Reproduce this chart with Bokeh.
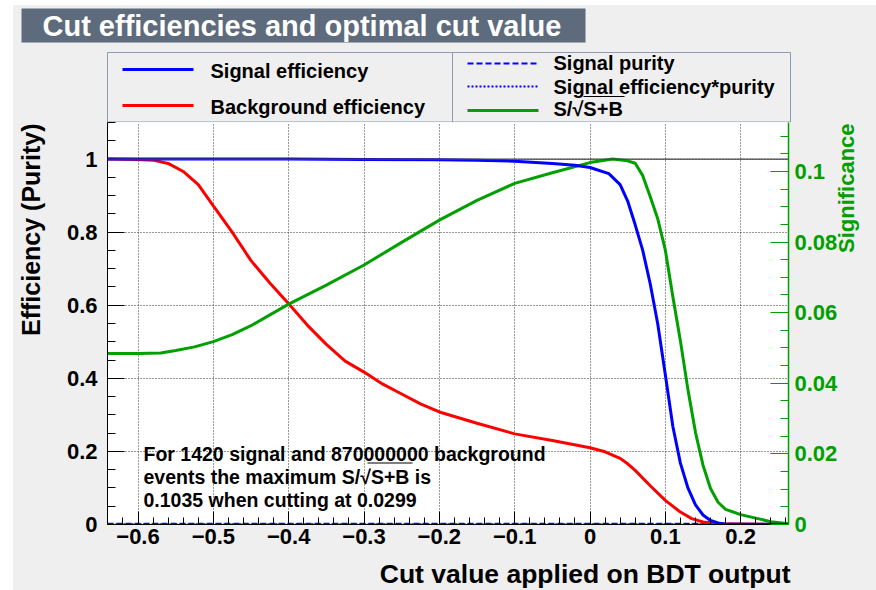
import numpy as np
from bokeh.plotting import figure
from bokeh.layouts import column, row
from bokeh.models import (Range1d, LinearAxis, FixedTicker, Label, BoxAnnotation, Span)
from bokeh.core.properties import value
from bokeh.embed import file_html
from bokeh.resources import INLINE

FONT = "Liberation Sans"
GREEN = "#00a000"
CANVAS = "#efefef"

# ---- numbers quoted in the summary text ----
N_SIG = 1420
N_BKG = 870000000
SIG_MAX = 0.1035      # maximum S/sqrt(S+B)
CUT_OPT = 0.0299      # BDT cut at which the maximum occurs

# ---- axis ranges and ticks ----
X_MIN, X_MAX = -0.6405, 0.2635
X_TICKS = [-0.6, -0.5, -0.4, -0.3, -0.2, -0.1, 0, 0.1, 0.2]
X_TICK_LABELS = ["\u22120.6", "\u22120.5", "\u22120.4", "\u22120.3", "\u22120.2",
                 "\u22120.1", "0", "0.1", "0.2"]
Y_TICKS = [0, 0.2, 0.4, 0.6, 0.8, 1]
Y_TICK_LABELS = ["0", "0.2", "0.4", "0.6", "0.8", "1"]
SIG_TICKS = [0, 0.02, 0.04, 0.06, 0.08, 0.1]
SIG_TICK_LABELS = ["0", "0.02", "0.04", "0.06", "0.08", "0.1"]

# ---- titles and legend entries ----
TITLE = "Cut efficiencies and optimal cut value"
X_TITLE = "Cut value applied on BDT output"
Y_TITLE = "Efficiency (Purity)"
SIG_TITLE = "Significance"
LEGEND_LEFT = ["Signal efficiency", "Background efficiency"]
LEGEND_RIGHT = ["Signal purity", "Signal efficiency*purity", "S/\u221aS+B"]

# ---- signal efficiency vs cut ----
seff_x = [-0.6405, -0.5, -0.4, -0.3, -0.2, -0.15, -0.1, -0.05, -0.02, 0.0, 0.025,
          0.04, 0.05, 0.06, 0.07, 0.08, 0.09, 0.10, 0.11, 0.12, 0.13, 0.14, 0.15,
          0.16, 0.17, 0.18, 0.2635]
seff_y = [1.0, 1.0, 1.0, 0.999, 0.998, 0.997, 0.994, 0.988, 0.983, 0.977, 0.960,
          0.930, 0.885, 0.820, 0.750, 0.658, 0.548, 0.410, 0.268, 0.168, 0.100,
          0.054, 0.026, 0.011, 0.004, 0.001, 0.0]

# ---- background efficiency vs cut ----
beff_x = [-0.6405, -0.60, -0.58, -0.56, -0.54, -0.52, -0.50, -0.475, -0.45, -0.425,
          -0.40, -0.375, -0.35, -0.325, -0.30, -0.275, -0.25, -0.225, -0.20, -0.15,
          -0.10, -0.05, 0.0, 0.02, 0.04, 0.05, 0.06, 0.08, 0.10, 0.12, 0.135,
          0.15, 0.17, 0.2635]
beff_y = [1.0, 0.999, 0.997, 0.988, 0.966, 0.930, 0.872, 0.800, 0.722, 0.661,
          0.604, 0.545, 0.493, 0.447, 0.417, 0.384, 0.357, 0.330, 0.308, 0.277,
          0.248, 0.230, 0.210, 0.199, 0.181, 0.166, 0.148, 0.106, 0.066, 0.034,
          0.016, 0.007, 0.002, 0.0]

# ---- signal purity and efficiency*purity (tiny for this S/B ratio) ----
pur_x = [-0.6405, -0.3, 0.0, 0.1, 0.2]
pur_y = [0.002, 0.002, 0.002, 0.002, 0.002]
effpur_x = [-0.6405, -0.3, 0.0, 0.1, 0.15]
effpur_y = [0.001, 0.001, 0.001, 0.001, 0.001]

# ---- significance S/sqrt(S+B) vs cut ----
sig_x = [-0.6405, -0.60, -0.57, -0.55, -0.525, -0.50, -0.475, -0.45, -0.40, -0.35,
         -0.30, -0.25, -0.20, -0.15, -0.10, -0.05, 0.0, CUT_OPT, 0.05, 0.06, 0.07,
         0.08, 0.09, 0.10, 0.11, 0.12, 0.13, 0.14, 0.15, 0.16, 0.17, 0.18, 0.20,
         0.22, 0.24, 0.2635]
sig_y = [0.0484, 0.0484, 0.0486, 0.0493, 0.0503, 0.0518, 0.0538, 0.0563, 0.0624,
         0.0678, 0.0735, 0.0799, 0.0862, 0.0918, 0.0966, 0.0996, 0.1025, SIG_MAX,
         0.1030, 0.1023, 0.0988, 0.0928, 0.0865, 0.0777, 0.0645, 0.0520, 0.0382,
         0.0261, 0.0168, 0.0102, 0.0063, 0.0043, 0.0028, 0.0018, 0.0008, 0.0002]

# ---- page geometry (pixels) ----
W, H = 876, 590
OX, OY = 13, 5                  # white page margin left / top
FRAME_L, FRAME_R, FRAME_T, FRAME_B = 107, 790, 122, 524
LEFT_STRIP = 50                 # page x where the main plot starts
AX_L, AX_R, AX_B = 57, 50, 34   # axis borders of the main plot
MAIN_W = AX_L + (FRAME_R - FRAME_L) + AX_R
MAIN_H = (FRAME_B - FRAME_T) + AX_B
RIGHT_STRIP = W - LEFT_STRIP - MAIN_W
RIGHT_OVERLAP = 8               # the significance title reaches over the tick labels
BOTTOM_STRIP = H - FRAME_T - MAIN_H


def bare(width, height, x_range, y_range, transparent=False):
    f = figure(width=width, height=height, x_range=x_range, y_range=y_range,
               x_axis_type=None, y_axis_type=None, output_backend="svg",
               toolbar_location=None, min_border=0,
               background_fill_color=CANVAS, border_fill_color=CANVAS)
    f.outline_line_color = None
    if transparent:
        f.background_fill_alpha = 0
        f.border_fill_alpha = 0
    return f


def write(f, xs, ys, texts, size, color="black", align="left", angle=0.0):
    f.text(x=xs, y=ys, text=texts, text_font=value(FONT), text_font_style="bold",
           text_font_size=size, text_color=color, text_align=align,
           text_baseline="middle", angle=angle)


# ---------------- main plot ----------------
p = figure(width=MAIN_W, height=MAIN_H,
           x_range=Range1d(X_MIN, X_MAX), y_range=Range1d(0, 1.1),
           output_backend="svg", toolbar_location=None,
           min_border_left=AX_L, min_border_right=AX_R,
           min_border_top=0, min_border_bottom=AX_B,
           background_fill_color="white", border_fill_color=CANVAS)
p.outline_line_color = None
p.extra_y_ranges = {"sig": Range1d(0, 1.1 * SIG_MAX)}

tick_font = dict(major_label_text_font=FONT, major_label_text_font_style="bold",
                 major_label_text_font_size="22px")

xax = p.xaxis[0]
xax.ticker = FixedTicker(ticks=X_TICKS,
                         minor_ticks=[round(v, 2) for v in np.arange(-0.64, 0.27, 0.02)])
xax.major_label_overrides = dict(zip(X_TICKS, X_TICK_LABELS))
xax.update(major_tick_in=13, major_tick_out=0, minor_tick_in=7, minor_tick_out=0,
           major_label_standoff=4, axis_line_color="black",
           major_tick_line_color="black", minor_tick_line_color="black",
           major_label_text_color="black", **tick_font)

yax = p.yaxis[0]
yax.ticker = FixedTicker(ticks=Y_TICKS,
                         minor_ticks=[round(v, 2) for v in np.arange(0, 1.11, 0.05)])
yax.major_label_overrides = dict(zip(Y_TICKS, Y_TICK_LABELS))
yax.update(major_tick_in=17, major_tick_out=0, minor_tick_in=8, minor_tick_out=0,
           major_label_standoff=10, axis_line_color="black",
           major_tick_line_color="black", minor_tick_line_color="black",
           major_label_text_color="black", **tick_font)

rax = LinearAxis(y_range_name="sig",
                 ticker=FixedTicker(ticks=SIG_TICKS,
                                    minor_ticks=[round(v, 3) for v in np.arange(0, 0.114, 0.005)]))
rax.major_label_overrides = dict(zip(SIG_TICKS, SIG_TICK_LABELS))
rax.update(major_tick_in=18, major_tick_out=0, minor_tick_in=8, minor_tick_out=0,
           major_label_standoff=6, axis_line_color=GREEN, axis_line_width=1.5,
           major_tick_line_color=GREEN, minor_tick_line_color=GREEN,
           major_label_text_color=GREEN, **tick_font)
p.add_layout(rax, "right")

for g in (p.xgrid, p.ygrid):
    g.grid_line_color = "#333333"
    g.grid_line_dash = "1 2"
    g.grid_line_width = 1

p.add_layout(Span(location=1, dimension="width", line_color="#444444", line_width=1.2))

p.line(pur_x, pur_y, line_color="blue", line_width=2, line_dash="6 3")
p.line(effpur_x, effpur_y, line_color="blue", line_width=2, line_dash="2 2")
p.line(beff_x, beff_y, line_color="red", line_width=3)
p.line(sig_x, sig_y, line_color=GREEN, line_width=3, y_range_name="sig")
p.line(seff_x, seff_y, line_color="blue", line_width=3)


# summary text inside the frame (screen units from the frame's bottom-left)
def note(t, cx, cy):
    p.add_layout(Label(x=cx - FRAME_L, y=FRAME_B - cy, x_units="screen", y_units="screen",
                       text=t, text_font=FONT, text_font_style="bold",
                       text_font_size="19.5px", text_color="black",
                       text_align="left", text_baseline="middle"))


note(f"For {N_SIG} signal and {N_BKG} background", 143, 453)
note("events the maximum S/\u221aS+B is", 143, 476)
note(f"{SIG_MAX:.4f} when cutting at {CUT_OPT:.4f}", 143, 499)
p.add_layout(BoxAnnotation(left=367 - FRAME_L, right=412 - FRAME_L,
                           top=FRAME_B - 462, bottom=FRAME_B - 463,
                           left_units="screen", right_units="screen",
                           top_units="screen", bottom_units="screen",
                           fill_color="black", fill_alpha=1, line_alpha=0))

# ---------------- header: title box and legend (page pixels, y downward) ----------------
top = bare(W - OX, FRAME_T - OY, Range1d(OX, W), Range1d(FRAME_T, OY))
top.quad(left=[21], right=[585], top=[8], bottom=[42], fill_color="#5d6b7d", line_alpha=0)
write(top, [42], [25], [TITLE], "29px", color="white")

top.quad(left=[FRAME_L], right=[FRAME_R], top=[52], bottom=[121.5],
         fill_alpha=0, line_color="#8e9bb0", line_width=1)
top.segment(x0=[452], y0=[52], x1=[452], y1=[121.5], line_color="#8e9bb0", line_width=1)

# legend samples
top.segment(x0=[122], y0=[69], x1=[193], y1=[69], line_color="blue", line_width=3)
top.segment(x0=[122], y0=[105], x1=[193], y1=[105], line_color="red", line_width=3)
top.segment(x0=[467], y0=[63], x1=[538], y1=[63], line_color="blue", line_width=2,
            line_dash="6 3")
top.segment(x0=[467], y0=[86], x1=[538], y1=[86], line_color="blue", line_width=2,
            line_dash="2 2")
top.segment(x0=[467], y0=[110], x1=[538], y1=[110], line_color=GREEN, line_width=3)
write(top, [210, 210], [70, 106], LEGEND_LEFT, "20px")
write(top, [553, 553, 553], [62, 86, 108], LEGEND_RIGHT, "20px")
top.segment(x0=[583], y0=[96], x1=[624], y1=[96], line_color="black", line_width=1)

# ---------------- side strips with the axis titles ----------------
left = bare(LEFT_STRIP - OX, MAIN_H, Range1d(OX, LEFT_STRIP), Range1d(0, MAIN_H))
write(left, [30], [MAIN_H - 1], [Y_TITLE], "25px", align="right", angle=np.pi / 2)

right_x0 = W - RIGHT_STRIP - RIGHT_OVERLAP
right = bare(RIGHT_STRIP + RIGHT_OVERLAP, MAIN_H, Range1d(right_x0, W), Range1d(0, MAIN_H),
             transparent=True)
right.margin = (0, 0, 0, -RIGHT_OVERLAP)
# canvas colour where the strip does not lie over the tick labels
right.quad(left=[W - RIGHT_STRIP], right=[W], top=[MAIN_H], bottom=[0],
           fill_color=CANVAS, line_alpha=0)
write(right, [846], [MAIN_H - 1], [SIG_TITLE], "22px", color=GREEN,
      align="right", angle=np.pi / 2)

bottom = bare(W - OX, BOTTOM_STRIP, Range1d(OX, W), Range1d(H, H - BOTTOM_STRIP))
write(bottom, [FRAME_R], [573], [X_TITLE], "26.5px", align="right")

page = column(top, row(left, p, right, spacing=0), bottom, spacing=0,
              margin=(OY, 0, 0, OX), styles={"background-color": CANVAS})
open("out.html", "w").write(file_html(page, INLINE))
